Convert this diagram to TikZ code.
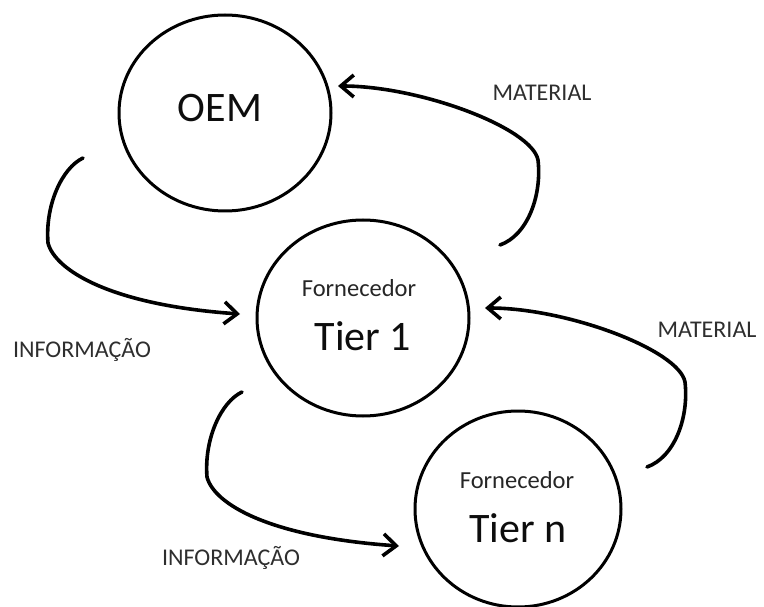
\documentclass[tikz,border=0pt]{standalone}
\usepackage{fontspec}
\setmainfont{Carlito}
\usetikzlibrary{shapes.geometric,arrows.meta}
\tikzset{
  entity/.style={ellipse, draw=black, line width=3pt, minimum width=212pt, minimum height=196pt, inner sep=0pt},
  flow/.style={line width=3.6pt, line cap=round, -{Straight Barb[length=13pt,width=22pt]}},
  small/.style={font=\fontsize{24.5}{28}\selectfont, text=black!85, anchor=base, inner sep=0pt},
  big/.style={font=\fontsize{42}{46}\selectfont, text=black!95, anchor=base, inner sep=0pt},
  tag/.style={font=\fontsize{24}{28}\selectfont, text=black!82, anchor=base, inner sep=0pt}
}
\begin{document}
\begin{tikzpicture}[x=1pt,y=-1pt]
\useasboundingbox (0,0) rectangle (764,607);

% the three parties
\node[entity] (oem) at (225,113) {};
\node[entity] (t1) at (363,318) {};
\node[entity, minimum width=206pt] (tn) at (518,509) {};

\node[big] (oemtxt) at (220,122) {OEM};
\node[small] (t1a) at (359,297) {Fornecedor};
\node[big] (t1b) at (363,350) {Tier 1};
\node[small] (tna) at (517,488) {Fornecedor};
\node[big] (tnb) at (518,542) {Tier n};

% free ends and bends of the flows
\coordinate (m1s) at (500,245);
\coordinate (m1b) at (538,160);
\coordinate (m1t) at (338,86);
\coordinate (m2s) at (647,467);
\coordinate (m2b) at (685,382);
\coordinate (m2t) at (485,308);
\coordinate (i1s) at (83,158);
\coordinate (i1b) at (48,243);
\coordinate (i1t) at (240,314);
\coordinate (i2s) at (242,392);
\coordinate (i2b) at (207,477);
\coordinate (i2t) at (399,546);

% material flows upstream
\draw[flow] (m1s) .. controls +(28,-10) and +(4,35) .. (m1b)
                  .. controls +(-6,-32) and +(82,0) .. (m1t);
\draw[flow] (m2s) .. controls +(28,-10) and +(4,35) .. (m2b)
                  .. controls +(-6,-32) and +(82,0) .. (m2t);

% information flows downstream
\draw[flow] (i1s) .. controls +(-21,10) and +(-3,-38) .. (i1b)
                  .. controls +(7,27) and +(-130,-9) .. (i1t);
\draw[flow] (i2s) .. controls +(-21,10) and +(-3,-38) .. (i2b)
                  .. controls +(7,27) and +(-130,-9) .. (i2t);

% flow labels
\node[tag] (lm1) at (542,101) {MATERIAL};
\node[tag] (lm2) at (707,337) {MATERIAL};
\node[tag] (li1) at (82,357) {INFORMAÇÃO};
\node[tag] (li2) at (231,565) {INFORMAÇÃO};
\end{tikzpicture}
\end{document}
